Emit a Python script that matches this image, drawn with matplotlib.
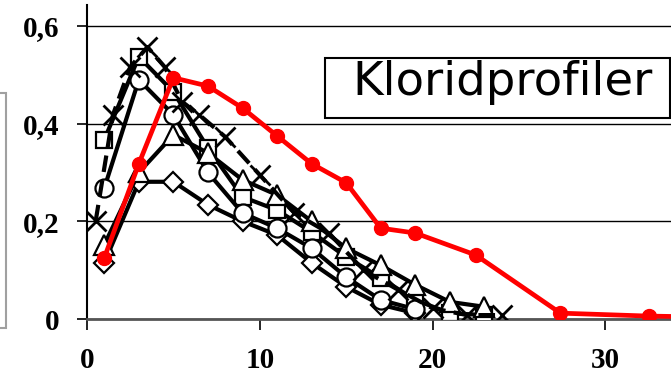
import matplotlib
matplotlib.use("Agg")
import matplotlib.pyplot as plt
from matplotlib.patches import Rectangle

# Depth (mm) and chloride content
x_std = [1, 3, 5, 7, 9, 11, 13, 15, 17, 19, 21, 23]
square_y = [0.367, 0.537, 0.465, 0.35, 0.25, 0.223, 0.178, 0.127, 0.084, 0.039, 0.012, 0.008]
triangle_y = [0.152, 0.30, 0.377, 0.34, 0.285, 0.254, 0.20, 0.145, 0.11, 0.07, 0.035, 0.025]
x_short = [1, 3, 5, 7, 9, 11, 13, 15, 17, 19]
circle_y = [0.268, 0.49, 0.418, 0.30, 0.217, 0.186, 0.145, 0.086, 0.039, 0.02]
diamond_y = [0.115, 0.281, 0.281, 0.234, 0.20, 0.172, 0.115, 0.066, 0.029, 0.012]
x_cross = [0.5, 1.5, 2.5, 3.5, 4.5, 5.5, 6.5, 8, 10, 12, 14, 16, 18, 20, 22, 24]
cross_y = [0.20, 0.418, 0.516, 0.557, 0.516, 0.445, 0.418, 0.373, 0.295, 0.217, 0.176, 0.10, 0.06, 0.022, 0.008, 0.008]
x_red = [1, 3, 5, 7, 9, 11, 13, 15, 17, 19, 22.5, 27.4, 32.5, 37.5]
red_y = [0.125, 0.318, 0.494, 0.477, 0.432, 0.375, 0.318, 0.279, 0.186, 0.176, 0.131, 0.012, 0.006, 0.003]

x_ticks = [0, 10, 20, 30]
x_ticklabels = ["0", "10", "20", "30"]
y_ticks = [0, 0.2, 0.4, 0.6]
y_ticklabels = ["0", "0,2", "0,4", "0,6"]
title_text = "Kloridprofiler"

W, H = 671, 377
fig = plt.figure(figsize=(W / 100, H / 100), dpi=100)
ax = fig.add_axes([87 / W, (H - 319) / H, 1 - 87 / W, (319 - 5) / H])
ax.set_xlim(0, 33.8)
ax.set_ylim(0, 0.643)

lw = 3.0
common = dict(color="black", lw=lw, mfc="white", mec="black", mew=1.6, clip_on=True)
ax.plot(x_std, square_y, marker="s", ms=12, zorder=3, **common)
ax.plot(x_short, diamond_y, marker="D", ms=10, zorder=3.1, **common)
ax.plot(x_short, circle_y, marker="o", ms=13, zorder=3.2, **common)
ax.plot(x_std, triangle_y, marker="^", ms=14, zorder=3.3, **common)
ax.plot(x_cross, cross_y, marker="x", ms=15, color="black", lw=lw, ls=(0, (4, 2)),
        mew=2, zorder=3.4)
ax.plot(x_red, red_y, marker="o", ms=10, color="#ff0000", lw=3.4, mfc="#ff0000",
        mec="#ff0000", zorder=4)

ax.set_xticks(x_ticks)
ax.set_xticklabels(x_ticklabels)
ax.set_yticks(y_ticks)
ax.set_yticklabels(y_ticklabels)
for lab in ax.get_xticklabels() + ax.get_yticklabels():
    lab.set_fontfamily("Liberation Serif")
    lab.set_fontweight("bold")
    lab.set_fontsize(21)
ax.tick_params(axis="x", direction="out", length=8, width=1.2, pad=12, colors="black")
ax.tick_params(axis="y", direction="out", length=7, width=1.2, pad=13, colors="black")
ax.grid(axis="y", color="black", lw=1.0, zorder=1)
ax.set_axisbelow(True)

for s in ["top", "right"]:
    ax.spines[s].set_visible(False)
ax.spines["left"].set_color("black")
ax.spines["left"].set_linewidth(1.5)
ax.spines["bottom"].set_color("#555555")
ax.spines["bottom"].set_linewidth(2)

# Title box
fig.patches.append(Rectangle((325 / W, (H - 118) / H), (670 - 325) / W, 60 / H,
                             transform=fig.transFigure, fill=True, fc="white",
                             ec="black", lw=1.5, zorder=5))
fig.text(352 / W, (H - 95) / H, title_text, fontsize=33.5, family="DejaVu Sans",
         va="baseline", ha="left", zorder=6)

# Partial frame at left edge
fig.patches.append(Rectangle((-10 / W, (H - 328) / H), 15.5 / W, (328 - 93) / H,
                             transform=fig.transFigure, fill=False, ec="#a0a0a0",
                             lw=1.5, zorder=5))

fig.savefig("out.png", dpi=100)
